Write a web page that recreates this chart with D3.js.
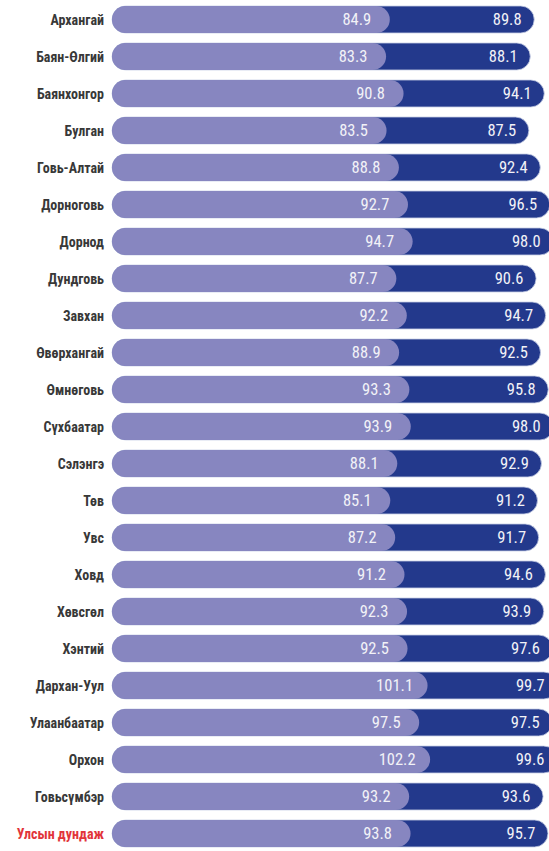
<!DOCTYPE html>
<html>
<head>
<meta charset="utf-8">
<script src="https://cdn.jsdelivr.net/npm/d3@7"></script>
<style>
  body { margin: 0; background: #ffffff; }
</style>
</head>
<body>
<div id="chart-area"></div>
<script>
// Province names, top to bottom.
var provinces = ["Архангай", "Баян-Өлгий", "Баянхонгор", "Булган", "Говь-Алтай", "Дорноговь",
    "Дорнод", "Дундговь", "Завхан", "Өвөрхангай", "Өмнөговь", "Сүхбаатар", "Сэлэнгэ", "Төв",
    "Увс", "Ховд", "Хөвсгөл", "Хэнтий", "Дархан-Уул", "Улаанбаатар", "Орхон", "Говьсүмбэр",
    "Улсын дундаж"];

// First value (light pill).
var firstValues = [84.9, 83.3, 90.8, 83.5, 88.8, 92.7, 94.7, 87.7, 92.2, 88.9, 93.3, 93.9, 88.1,
    85.1, 87.2, 91.2, 92.3, 92.5, 101.1, 97.5, 102.2, 93.2, 93.8];

// Second value (dark pill).
var secondValues = [89.8, 88.1, 94.1, 87.5, 92.4, 96.5, 98.0, 90.6, 94.7, 92.5, 95.8, 98.0, 92.9,
    91.2, 91.7, 94.6, 93.9, 97.6, 99.7, 97.5, 99.6, 93.6, 95.7];

// The national average row gets a red label.
var averageLabel = "Улсын дундаж";

var width = 549,
    height = 851;

var svg = d3.select("#chart-area")
    .append("svg")
        .attr("width", width)
        .attr("height", height);

var rows = provinces.map(function(p, i){
    return {name: p, first: firstValues[i], second: secondValues[i]};
});

// One band per row.
var y = d3.scaleBand()
    .domain(provinces)
    .range([1, 852])
    .paddingInner(0.27)
    .paddingOuter(0.135);

// The light pill and the dark pill share the slope, the dark one is pushed right.
var xFirst = d3.scaleLinear()
    .domain([0, 100])
    .range([192, 425]);

var xSecond = d3.scaleLinear()
    .domain([0, 100])
    .range([325, 558]);

var barLeft = 112;
var barH = y.bandwidth();
var font = "'Roboto Condensed', 'Liberation Sans Narrow', Roboto, sans-serif";

var row = svg.selectAll("g.row")
    .data(rows)
    .enter()
    .append("g")
        .attr("class", "row")
        .attr("transform", function(d){ return "translate(0, " + y(d.name) + ")"; });

// Dark pill behind.
row.append("rect")
    .attr("x", barLeft)
    .attr("y", 0)
    .attr("width", function(d){ return xSecond(d.second) - barLeft; })
    .attr("height", barH)
    .attr("rx", barH / 2)
    .attr("fill", "#23398c")
    .attr("stroke", "#c9d0e6")
    .attr("stroke-width", 0.8);

// Light pill on top.
row.append("rect")
    .attr("x", barLeft)
    .attr("y", 0)
    .attr("width", function(d){ return xFirst(d.first) - barLeft; })
    .attr("height", barH)
    .attr("rx", barH / 2)
    .attr("fill", "#8786c0");

// Value labels.
row.append("text")
    .attr("x", function(d){ return xFirst(d.first) - 33; })
    .attr("y", barH / 2)
    .attr("dy", "0.36em")
    .attr("text-anchor", "middle")
    .attr("font-family", font)
    .attr("font-size", "16.5px")
    .attr("fill", "#f2f2f7")
    .text(function(d){ return d.first.toFixed(1); });

row.append("text")
    .attr("x", function(d){ return xSecond(d.second) - 27; })
    .attr("y", barH / 2)
    .attr("dy", "0.36em")
    .attr("text-anchor", "middle")
    .attr("font-family", font)
    .attr("font-size", "16.5px")
    .attr("fill", "#f2f2f7")
    .text(function(d){ return d.second.toFixed(1); });

// Province names on the left.
row.append("text")
    .attr("x", 104)
    .attr("y", barH / 2)
    .attr("dy", "0.36em")
    .attr("text-anchor", "end")
    .attr("font-family", font)
    .attr("font-size", "14px")
    .attr("font-weight", "bold")
    .attr("fill", function(d){ return d.name == averageLabel ? "#e2343a" : "#383838"; })
    .text(function(d){ return d.name; });
</script>
</body>
</html>
